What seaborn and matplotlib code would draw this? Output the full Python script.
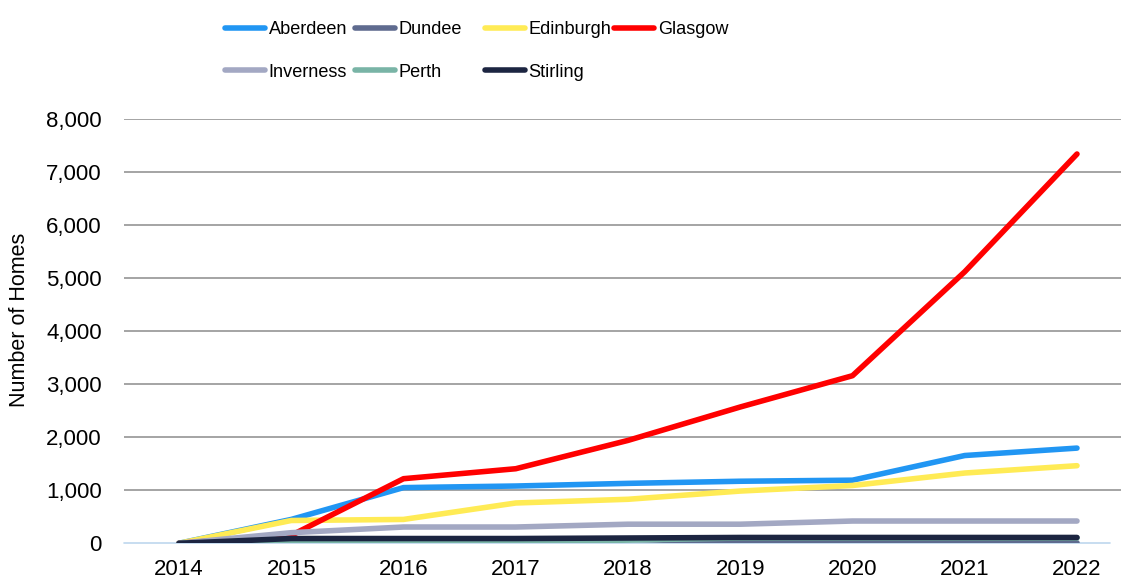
import matplotlib
matplotlib.use("Agg")
import matplotlib.pyplot as plt
from matplotlib.ticker import FuncFormatter
import pandas as pd
import seaborn as sns

# Cumulative number of homes by city, 2014-2022
years = [2014, 2015, 2016, 2017, 2018, 2019, 2020, 2021, 2022]
cities = ["Aberdeen", "Dundee", "Edinburgh", "Glasgow",
          "Inverness", "Perth", "Stirling"]

aberdeen = [0, 450, 1050, 1080, 1130, 1170, 1190, 1655, 1795]
dundee = [0, 0, 0, 0, 80, 10, 10, 10, 10]
edinburgh = [0, 430, 450, 760, 830, 985, 1090, 1325, 1463]
glasgow = [0, 150, 1218, 1406, 1940, 2570, 3160, 5120, 7340]
inverness = [0, 200, 307, 307, 360, 360, 420, 420, 420]
perth = [0, 25, 25, 25, 60, 100, 100, 100, 100]
stirling = [0, 90, 90, 90, 100, 110, 110, 110, 110]

colors = ["#2196F3", "#5F6B8F", "#FFEB55", "#FF0000",
          "#A3A8C3", "#79B4A6", "#1C2541"]

series = [aberdeen, dundee, edinburgh, glasgow, inverness, perth, stirling]
df = pd.concat(
    [pd.DataFrame({"Year": years, "Homes": vals, "City": name})
     for name, vals in zip(cities, series)],
    ignore_index=True,
)

sns.set_theme(style="white")
plt.rcParams["font.family"] = ["Liberation Sans", "DejaVu Sans"]

W, H = 1121, 580
fig = plt.figure(figsize=(W / 100, H / 100), dpi=100)
ax_left, ax_right = 124, 1132
ax_top, ax_bottom = 119, 543.3
ax = fig.add_axes([ax_left / W, (H - ax_bottom) / H,
                   (ax_right - ax_left) / W, (ax_bottom - ax_top) / H])

LW = 4.0
sns.lineplot(data=df, x="Year", y="Homes", hue="City", hue_order=cities,
             palette=colors, linewidth=LW, solid_capstyle="round",
             legend=False, ax=ax, zorder=3)

ax.set_xlim(2014 - 0.49, 2022 + 0.49)
ax.set_ylim(0, 8000)
ax.set_xticks(years)
ax.set_xticklabels([str(y) for y in years])
ax.set_yticks(range(0, 8001, 1000))
ax.yaxis.set_major_formatter(FuncFormatter(lambda v, _: f"{v:,.0f}"))

for v in range(1000, 8001, 1000):
    ax.axhline(v, color="#8C8C8C", linewidth=1.1, zorder=1)
ax.axhline(0, xmin=0, xmax=(1110 - ax_left) / (ax_right - ax_left),
           color="#BDD7EE", linewidth=1.2, zorder=2, clip_on=False)

for s in ax.spines.values():
    s.set_visible(False)
ax.grid(False)
ax.tick_params(axis="both", length=0, labelsize=16, colors="black")
ax.tick_params(axis="x", pad=11)
ax.tick_params(axis="y", pad=16)
ax.set_xlabel("")
ax.set_ylabel("Number of Homes", fontsize=15.5, color="black")
ax.yaxis.set_label_coords((30 - ax_left) / (ax_right - ax_left),
                          (ax_bottom - 320) / (ax_bottom - ax_top))

# Legend laid out as four fixed-width columns
handles = {}
for name, col in zip(cities, colors):
    handles[name] = plt.Line2D([], [], color=col, linewidth=LW,
                               solid_capstyle="round")
columns = [["Aberdeen", "Inverness"], ["Dundee", "Perth"],
           ["Edinburgh", "Stirling"], ["Glasgow"]]
col_x = [225, 355, 485, 614]
for names, x in zip(columns, col_x):
    leg = fig.legend([handles[n] for n in names], names,
                     loc="upper left", bbox_to_anchor=(x / W, 1 - 21 / H),
                     frameon=False, borderpad=0, borderaxespad=0,
                     handlelength=2.2, handletextpad=0.2,
                     labelspacing=1.42,
                     prop={"family": "Liberation Sans", "size": 13.1})
    for t in leg.get_texts():
        t.set_color("black")

fig.savefig("out.png", dpi=100)
